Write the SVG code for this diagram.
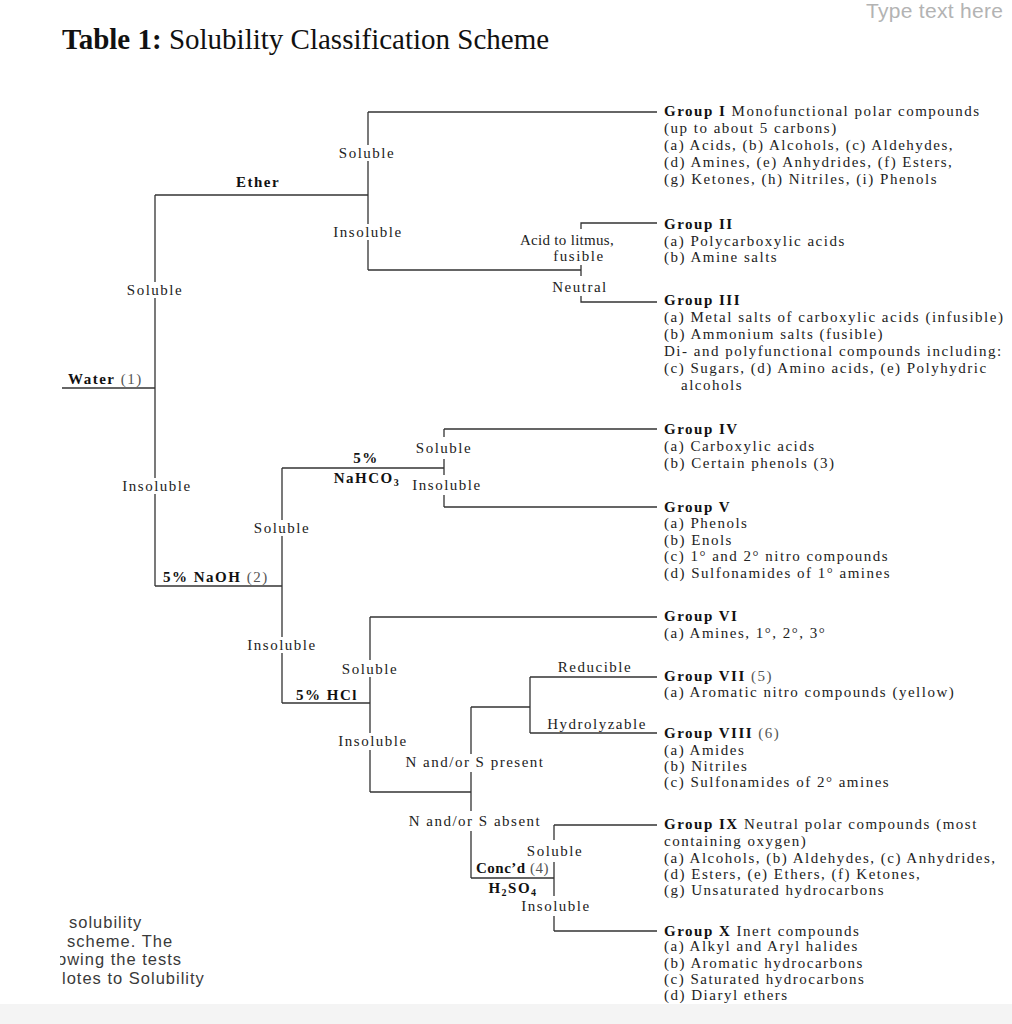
<svg xmlns="http://www.w3.org/2000/svg" width="1012" height="1024" viewBox="0 0 1012 1024">
<style>
.t{font-family:"Liberation Serif","Times New Roman",serif;font-size:15px;letter-spacing:1.5px;fill:#222}
.b{font-weight:bold;fill:#111}
.n{font-weight:normal;fill:#555}
.m{text-anchor:middle}
.sub{font-size:10px}
.conn path{fill:none;stroke:#333;stroke-width:1.3}
.sans{font-family:"Liberation Sans",Arial,sans-serif}
</style>
<defs>
<clipPath id="leftclip"><rect x="60" y="900" width="300" height="100"/></clipPath>
</defs>
<rect x="0" y="0" width="1012" height="1024" fill="#ffffff"/>
<rect x="0" y="1004" width="1012" height="20" fill="#f4f4f4"/>

<g id="title">
<text x="62" y="49" style="font-family:'Liberation Serif','Times New Roman',serif;font-size:29px;fill:#111"><tspan font-weight="bold">Table 1:</tspan> Solubility Classification Scheme</text>
</g>
<g id="type-text-here">
<text x="866" y="18" class="sans" style="font-size:21px;letter-spacing:0.3px;fill:#b3b3b3">Type text here</text>
</g>

<g id="connectors" class="conn">
<path d="M62,388 H155"/>
<path d="M155,195 V282 M155,298 V478 M155,494 V586"/>
<path d="M155,195 H368"/>
<path d="M368,112 V145 M368,161 V224 M368,240 V270"/>
<path d="M368,112 H657"/>
<path d="M368,270 H581 M581,265 V276"/>
<path d="M581,229 V223 H657"/>
<path d="M581,296 V302 H657"/>
<path d="M155,586 H282"/>
<path d="M282,468 V520 M282,536 V637 M282,653 V703"/>
<path d="M282,468 H444"/>
<path d="M444,429 V437 M444,459 V475 M444,495 V507"/>
<path d="M444,429 H657 M444,507 H657"/>
<path d="M282,703 H370"/>
<path d="M370,617 V660 M370,677 V733 M370,750 V792"/>
<path d="M370,617 H657"/>
<path d="M370,792 H471"/>
<path d="M471,707 V754 M471,772 V811 M471,831 V878"/>
<path d="M471,707 H530 M530,677 V733"/>
<path d="M530,677 H657 M530,733 H657"/>
<path d="M471,878 H554"/>
<path d="M554,825 V840 M554,862 V896 M554,916 V931"/>
<path d="M554,825 H657 M554,931 H657"/>
</g>

<g id="branch-labels" class="t">
<text id="water" x="68" y="384"><tspan class="b">Water</tspan><tspan class="n"> (1)</tspan></text>
<text class="m" x="155" y="295">Soluble</text>
<text class="m" x="157" y="491">Insoluble</text>
<text class="m b" x="258" y="187">Ether</text>
<text class="m" x="367" y="158">Soluble</text>
<text class="m" x="368" y="237">Insoluble</text>
<text class="m" x="567" y="245" style="letter-spacing:0.3px">Acid to litmus,</text>
<text class="m" x="579" y="261">fusible</text>
<text class="m" x="580" y="292">Neutral</text>
<text x="163" y="582"><tspan class="b">5% NaOH</tspan><tspan class="n"> (2)</tspan></text>
<text class="m" x="282" y="533">Soluble</text>
<text class="m b" x="366" y="463">5%</text>
<text class="m b" x="367" y="483">NaHCO<tspan class="sub" dy="3">3</tspan></text>
<text class="m" x="444" y="453">Soluble</text>
<text class="m" x="447" y="490">Insoluble</text>
<text class="m" x="282" y="650">Insoluble</text>
<text class="b" x="296" y="700">5% HCl</text>
<text class="m" x="370" y="674">Soluble</text>
<text class="m" x="373" y="746">Insoluble</text>
<text class="m" x="595" y="672">Reducible</text>
<text class="m" x="597" y="729">Hydrolyzable</text>
<text class="m" x="475" y="767">N and/or S present</text>
<text class="m" x="475" y="826">N and/or S absent</text>
<text class="m" x="555" y="856">Soluble</text>
<text x="476" y="873" style="letter-spacing:0.5px"><tspan class="b">Conc’d</tspan><tspan class="n"> (4)</tspan></text>
<text class="m b" x="513" y="893">H<tspan class="sub" dy="3">2</tspan><tspan dy="-3">SO</tspan><tspan class="sub" dy="3">4</tspan></text>
<text class="m" x="556" y="911">Insoluble</text>
</g>

<g id="group-I" class="t">
<text x="664" y="116"><tspan class="b">Group I</tspan> Monofunctional polar compounds</text>
<text x="664" y="133">(up to about 5 carbons)</text>
<text x="664" y="150">(a) Acids, (b) Alcohols, (c) Aldehydes,</text>
<text x="664" y="167">(d) Amines, (e) Anhydrides, (f) Esters,</text>
<text x="664" y="184">(g) Ketones, (h) Nitriles, (i) Phenols</text>
</g>
<g id="group-II" class="t">
<text x="664" y="229" class="b">Group II</text>
<text x="664" y="246">(a) Polycarboxylic acids</text>
<text x="664" y="262">(b) Amine salts</text>
</g>
<g id="group-III" class="t">
<text x="664" y="305" class="b">Group III</text>
<text x="664" y="322">(a) Metal salts of carboxylic acids (infusible)</text>
<text x="664" y="339">(b) Ammonium salts (fusible)</text>
<text x="664" y="356">Di- and polyfunctional compounds including:</text>
<text x="664" y="373">(c) Sugars, (d) Amino acids, (e) Polyhydric</text>
<text x="681" y="390">alcohols</text>
</g>
<g id="group-IV" class="t">
<text x="664" y="434" class="b">Group IV</text>
<text x="664" y="451">(a) Carboxylic acids</text>
<text x="664" y="468">(b) Certain phenols (3)</text>
</g>
<g id="group-V" class="t">
<text x="664" y="512" class="b">Group V</text>
<text x="664" y="528">(a) Phenols</text>
<text x="664" y="545">(b) Enols</text>
<text x="664" y="561">(c) 1° and 2° nitro compounds</text>
<text x="664" y="578">(d) Sulfonamides of 1° amines</text>
</g>
<g id="group-VI" class="t">
<text x="664" y="621" class="b">Group VI</text>
<text x="664" y="638">(a) Amines, 1°, 2°, 3°</text>
</g>
<g id="group-VII" class="t">
<text x="664" y="681"><tspan class="b">Group VII</tspan><tspan class="n"> (5)</tspan></text>
<text x="664" y="697">(a) Aromatic nitro compounds (yellow)</text>
</g>
<g id="group-VIII" class="t">
<text x="664" y="738"><tspan class="b">Group VIII</tspan><tspan class="n"> (6)</tspan></text>
<text x="664" y="755">(a) Amides</text>
<text x="664" y="771">(b) Nitriles</text>
<text x="664" y="787">(c) Sulfonamides of 2° amines</text>
</g>
<g id="group-IX" class="t">
<text x="664" y="829"><tspan class="b">Group IX</tspan> Neutral polar compounds (most</text>
<text x="664" y="846">containing oxygen)</text>
<text x="664" y="863">(a) Alcohols, (b) Aldehydes, (c) Anhydrides,</text>
<text x="664" y="879">(d) Esters, (e) Ethers, (f) Ketones,</text>
<text x="664" y="895">(g) Unsaturated hydrocarbons</text>
</g>
<g id="group-X" class="t">
<text x="664" y="936"><tspan class="b">Group X</tspan> Inert compounds</text>
<text x="664" y="951">(a) Alkyl and Aryl halides</text>
<text x="664" y="968">(b) Aromatic hydrocarbons</text>
<text x="664" y="984">(c) Saturated hydrocarbons</text>
<text x="664" y="1000">(d) Diaryl ethers</text>
</g>

<g id="side-note" class="sans" clip-path="url(#leftclip)" style="font-size:16.5px;letter-spacing:1px;fill:#3a3a3a">
<text x="69" y="928">solubility</text>
<text x="67" y="946.5">scheme. The</text>
<text x="57" y="965">owing the tests</text>
<text x="62" y="983.5">lotes to Solubility</text>
</g>
</svg>
